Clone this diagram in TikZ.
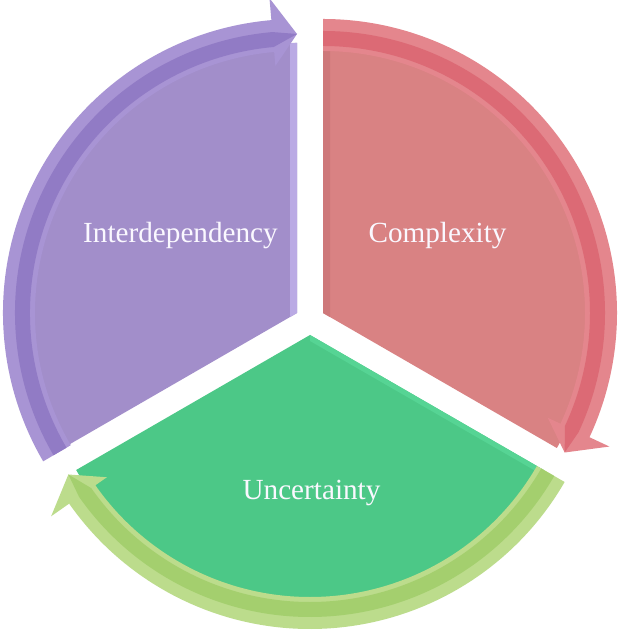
\documentclass[tikz,border=0pt]{standalone}
\usepackage{fontspec}
\setmainfont{Liberation Serif}
\definecolor{pfill}{RGB}{162,142,202}
\definecolor{pband}{RGB}{168,148,212}
\definecolor{pdark}{RGB}{145,123,197}
\definecolor{pbevel}{RGB}{186,170,228}
\definecolor{rfill}{RGB}{217,130,131}
\definecolor{rband}{RGB}{228,134,141}
\definecolor{rdark}{RGB}{220,106,117}
\definecolor{rbevel}{RGB}{206,120,122}
\definecolor{gfill}{RGB}{76,200,135}
\definecolor{gband}{RGB}{188,220,140}
\definecolor{gdark}{RGB}{164,207,110}
\definecolor{gbevel}{RGB}{86,212,148}
\definecolor{txt}{RGB}{250,248,255}
\tikzset{
  lbl/.style={text=txt, anchor=base, inner sep=0pt, font=\fontsize{29.2bp}{33bp}\selectfont},
}
\newcommand{\cyclearrow}[5]{% #1 tail angle, #2 head base angle, #3 tip angle, #4 band colour, #5 dark colour
  \fill[#4] (#1:262bp) arc[start angle=#1, end angle=#2, radius=262bp]
    -- (#2:248bp) -- (#3:279bp) -- (#2:316bp) -- (#2:294bp)
    arc[start angle=#2, end angle=#1, radius=294bp] -- cycle;
  \fill[#5] (#1:267bp) arc[start angle=#1, end angle=#2, radius=267bp]
    -- (#3:279bp) -- (#2:282bp)
    arc[start angle=#2, end angle=#1, radius=282bp] -- cycle;
}
\begin{document}
\begin{tikzpicture}[x=1bp,y=1bp]
\useasboundingbox (0,0) rectangle (621,633);
\fill[white] (0,0) rectangle (621,633);
% Interdependency (purple)
\begin{scope}[shift={(297,320)}]
  \fill[pfill] (0,0) -- (90:270bp) arc[start angle=90, end angle=210, radius=270bp] -- cycle;
  \fill[pbevel] (0,0) -- (0,270) -- (-7,270) -- (-7,-4.04) -- cycle;
  \cyclearrow{210.3}{95}{90}{pband}{pdark}
\end{scope}
% Complexity (red)
\begin{scope}[shift={(323,320)}]
  \fill[rfill] (0,0) -- (90:270bp) arc[start angle=90, end angle=-30, radius=270bp] -- cycle;
  \fill[rbevel] (0,0) -- (0,270) -- (7,270) -- (7,-4.04) -- cycle;
  \cyclearrow{90}{-25}{-30}{rband}{rdark}
\end{scope}
% Uncertainty (green)
\begin{scope}[shift={(310,298)}]
  \fill[gfill] (0,0) -- (-30:270bp) arc[start angle=-30, end angle=-150, radius=270bp] -- cycle;
  \fill[gbevel] (0,0) -- (-30:262bp) -- ++(-120:5bp) -- (0,-6) -- cycle;
  \cyclearrow{-30}{-145}{-150}{gband}{gdark}
\end{scope}
\node[lbl] (inter) at (180.5,390) {Interdependency};
\node[lbl] (compl) at (437.5,390) {Complexity};
\node[lbl] (uncert) at (311.5,133) {Uncertainty};
\end{tikzpicture}
\end{document}
